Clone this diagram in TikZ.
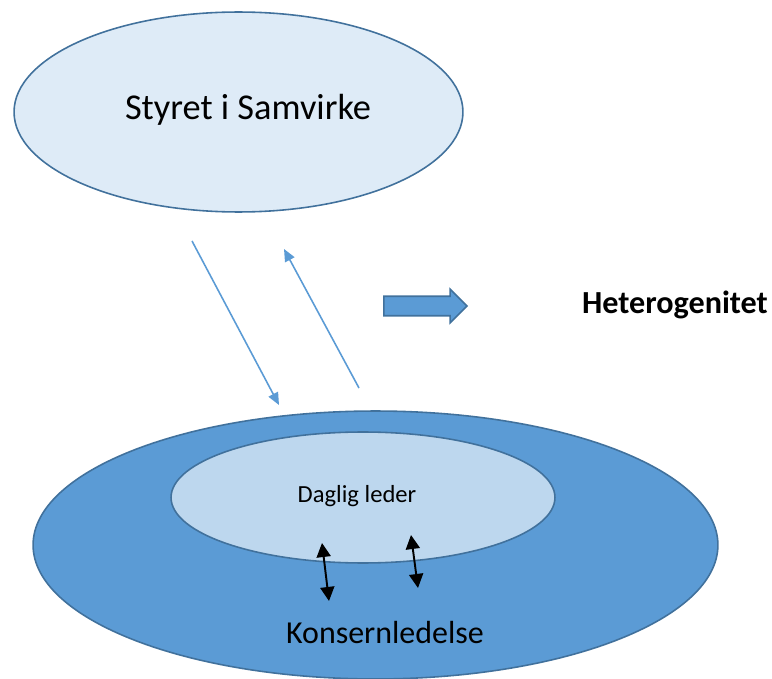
\documentclass[tikz,border=0pt]{standalone}
\usepackage{fontspec}
\setmainfont{Carlito}
\usepackage{xcolor}
\usepackage{tikz}
\usetikzlibrary{shapes.geometric, shapes.arrows, arrows.meta, positioning, calc}

\definecolor{rand}{HTML}{41719C}
\definecolor{lysbla}{HTML}{DEEBF7}
\definecolor{mellombla}{HTML}{BDD7EE}
\definecolor{morkbla}{HTML}{5B9BD5}

\begin{document}
\begin{tikzpicture}[x=0.02cm,y=-0.02cm,
    oval/.style={ellipse,draw=rand,line width=0.9pt,inner sep=0pt},
    tynnpil/.style={draw=morkbla,line width=0.9pt,-{Triangle[length=7pt,width=6pt]}},
    dobbelpil/.style={draw=black,line width=1.1pt,{Triangle[length=8pt,width=8pt]}-{Triangle[length=8pt,width=8pt]}}]
    \useasboundingbox (0,0) rectangle (772,679);
    % Styret
    \node[oval,fill=lysbla,minimum width=8.98cm,minimum height=4cm] (styret) at (238.5,112) {};
    \node[font=\fontsize{20.7}{24}\selectfont] (styrettekst) at (248,110) {Styret i Samvirke};
    % Konsern
    \node[oval,fill=morkbla,minimum width=13.7cm,minimum height=5.36cm] (konsern) at (375.5,545) {};
    \node[oval,fill=mellombla,minimum width=7.68cm,minimum height=2.62cm] (leder) at (363,497.5) {};
    \node[font=\fontsize{14}{16}\selectfont] (ledertekst) at (357,496) {Daglig leder};
    \node[font=\fontsize{18.2}{21}\selectfont] (konserntekst) at (385,633) {Konsernledelse};
    % Heterogenitet
    \node[single arrow,draw=rand,fill=morkbla,line width=0.9pt,minimum height=1.66cm,
        inner xsep=0pt,inner ysep=0.18cm,single arrow head extend=0.14cm] (blokkpil) at (420.5,306) {};
    \node[font=\bfseries\fontsize{18.3}{21}\selectfont] (hetero) at (675,305) {Heterogenitet};
    % piler mellom styret og konsernledelse
    \coordinate (ned1) at (192,241);
    \coordinate (ned2) at (279,405);
    \coordinate (opp1) at (359,388);
    \coordinate (opp2) at (284,249);
    \draw[tynnpil] (ned1) -- (ned2);
    \draw[tynnpil] (opp1) -- (opp2);
    % doble piler
    \coordinate (d1a) at (322,543);
    \coordinate (d1b) at (329,601);
    \coordinate (d2a) at (411,535);
    \coordinate (d2b) at (418,588);
    \draw[dobbelpil] (d1a) -- (d1b);
    \draw[dobbelpil] (d2a) -- (d2b);
\end{tikzpicture}
\end{document}
